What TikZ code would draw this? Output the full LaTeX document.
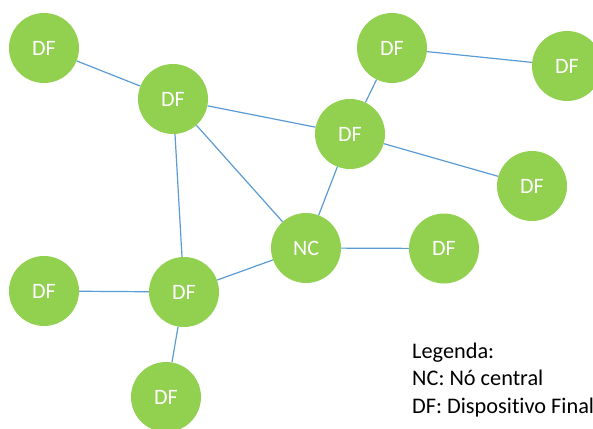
\documentclass[tikz,border=0pt]{standalone}
\usepackage{fontspec}
\setmainfont[Ligatures=NoCommon]{Carlito}
\definecolor{dfgreen}{HTML}{92D050}
\definecolor{linkblue}{HTML}{5B9BD5}

\begin{document}
\begin{tikzpicture}[x=1pt, y=-1pt,
    device/.style={circle, fill=dfgreen, minimum size=70pt, inner sep=0pt,
      text=white, font=\fontsize{22}{26}\selectfont},
    link/.style={draw=linkblue, line width=1.2pt}]
    \useasboundingbox (0, 0) rectangle (593, 428);

    % nodes
    \node[device] (df1) at (44, 48) {DF};
    \node[device] (df2) at (173, 99) {DF};
    \node[device] (df3) at (392, 48) {DF};
    \node[device] (df4) at (567, 66) {DF};
    \node[device] (df5) at (350, 134) {DF};
    \node[device] (df6) at (532, 186) {DF};
    \node[device] (nc) at (306, 248) {NC};
    \node[device] (df7) at (444, 248.5) {DF};
    \node[device] (df8) at (44, 291) {DF};
    \node[device] (df9) at (184, 292) {DF};
    \node[device] (df10) at (166, 397) {DF};

    % links
    \draw[link] (df1) -- (df2);
    \draw[link] (df2) -- (df5);
    \draw[link] (df2) -- (nc);
    \draw[link] (df2) -- (df9);
    \draw[link] (df3) -- (df4);
    \draw[link] (df3) -- (df5);
    \draw[link] (df5) -- (df6);
    \draw[link] (df5) -- (nc);
    \draw[link] (nc) -- (df7);
    \draw[link] (nc) -- (df9);
    \draw[link] (df8) -- (df9);
    \draw[link] (df9) -- (df10);

    % legend
    \node[anchor=west, align=left, inner sep=0pt, font=\fontsize{22.3}{27.5}\selectfont] (legend) at (412, 380)
      {Legenda:\\NC: Nó central\\DF: Dispositivo Final};
  \end{tikzpicture}
\end{document}
